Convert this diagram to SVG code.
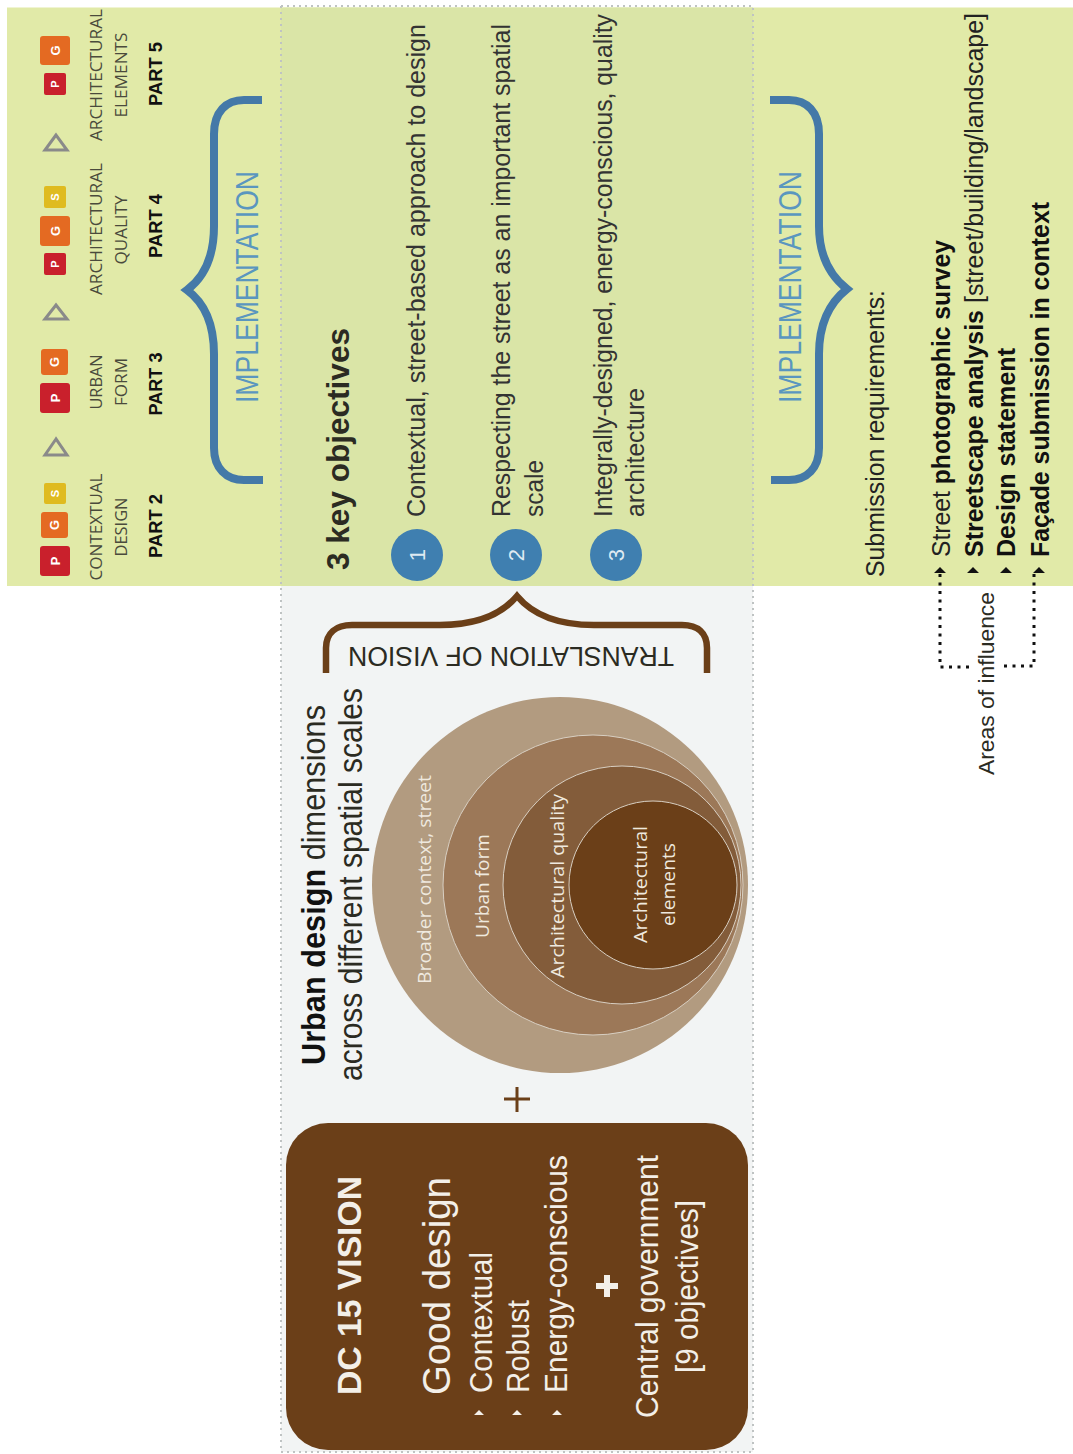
<svg xmlns="http://www.w3.org/2000/svg" width="1073" height="1454" viewBox="0 0 1073 1454">
<style>
text{font-family:"Liberation Sans",Arial,sans-serif;fill:#2b2b22}
.os{font-family:"Open Sans","Noto Sans",sans-serif}
.lab{font-size:16.5px;fill:#4a4a3c;text-anchor:middle}
.part{font-size:18.5px;font-weight:700;fill:#111;text-anchor:middle}
.badge{font-size:11px;font-weight:700;fill:#fff;text-anchor:middle}
.badge.big{font-size:13px}
.obj{font-size:26px;fill:#333}
.num{font-size:22px;fill:#dfeaf2;text-anchor:middle}
.sub{font-size:25px;fill:#222}
.b{font-weight:700;fill:#111}
.impl{font-size:31px;fill:#5a96bf}
.w{fill:#f3efe8}
.cl{font-size:18.5px;fill:#efe9df}
.brace{fill:none;stroke-linecap:butt;stroke-linejoin:miter}
.blue{stroke:#4479a8;stroke-width:8}
.red{fill:#c9202c}.org{fill:#e46a22}.yel{fill:#dfbb20}
.tri{fill:none;stroke:#8a8a8a;stroke-width:3}
</style>
<g id="background">
<rect x="7" y="7.5" width="1066" height="578.5" fill="#e1eaa8"/>
<rect x="281" y="7.5" width="472" height="578.5" fill="#dae5a7"/>
<rect x="281" y="586" width="472" height="866" fill="#f2f4f4"/>
<path d="M281,6V1452H753V6H281" fill="none" stroke="#bfc3c3" stroke-width="2" stroke-dasharray="2 4"/>
</g>
<g id="parts">
<g id="part2">
<rect class="red" x="40" y="546" width="30" height="30" rx="3"/><rect class="org" x="41" y="512" width="27" height="26" rx="3"/><rect class="yel" x="44" y="483" width="22" height="21" rx="2"/>
<text class="badge big" transform="translate(60,561) rotate(-90)">P</text><text class="badge big" transform="translate(59,525) rotate(-90)">G</text><text class="badge" transform="translate(59,493.500) rotate(-90)">S</text>
<text class="os lab" textLength="107" lengthAdjust="spacingAndGlyphs" transform="translate(102,527) rotate(-90)">CONTEXTUAL</text>
<text class="os lab" textLength="59" lengthAdjust="spacingAndGlyphs" transform="translate(127,527) rotate(-90)">DESIGN</text>
<text class="part" textLength="64" lengthAdjust="spacingAndGlyphs" transform="translate(162,526) rotate(-90)">PART 2</text>
</g>
<polygon id="step1" class="tri" points="56,439 45,455 67,455"/>
<g id="part3">
<rect class="org" x="41" y="349" width="27" height="26" rx="3"/><rect class="red" x="40" y="383" width="30" height="30" rx="3"/>
<text class="badge big" transform="translate(60,398) rotate(-90)">P</text><text class="badge big" transform="translate(59,362) rotate(-90)">G</text>
<text class="os lab" textLength="55" lengthAdjust="spacingAndGlyphs" transform="translate(102,382) rotate(-90)">URBAN</text>
<text class="os lab" textLength="48" lengthAdjust="spacingAndGlyphs" transform="translate(127,382) rotate(-90)">FORM</text>
<text class="part" textLength="63" lengthAdjust="spacingAndGlyphs" transform="translate(162,384) rotate(-90)">PART 3</text>
</g>
<polygon id="step2" class="tri" points="56,305 45,319 67,319"/>
<g id="part4">
<rect class="red" x="44" y="253" width="22" height="22" rx="2"/><rect class="org" x="40" y="216" width="30" height="30" rx="3"/><rect class="yel" x="44" y="186" width="22" height="22" rx="2"/>
<text class="badge" transform="translate(59,264) rotate(-90)">P</text><text class="badge big" transform="translate(60,231) rotate(-90)">G</text><text class="badge" transform="translate(59,197) rotate(-90)">S</text>
<text class="os lab" textLength="132" lengthAdjust="spacingAndGlyphs" transform="translate(102,229) rotate(-90)">ARCHITECTURAL</text>
<text class="os lab" textLength="69" lengthAdjust="spacingAndGlyphs" transform="translate(127,230) rotate(-90)">QUALITY</text>
<text class="part" textLength="64" lengthAdjust="spacingAndGlyphs" transform="translate(162,226) rotate(-90)">PART 4</text>
</g>
<polygon id="step3" class="tri" points="56,135 45,150 67,150"/>
<g id="part5">
<rect class="red" x="44" y="73" width="22" height="22" rx="2"/><rect class="org" x="40" y="36" width="30" height="29" rx="3"/>
<text class="badge" transform="translate(59,84) rotate(-90)">P</text><text class="badge big" transform="translate(60,50.500) rotate(-90)">G</text>
<text class="os lab" textLength="132" lengthAdjust="spacingAndGlyphs" transform="translate(102,75) rotate(-90)">ARCHITECTURAL</text>
<text class="os lab" textLength="85" lengthAdjust="spacingAndGlyphs" transform="translate(127,75) rotate(-90)">ELEMENTS</text>
<text class="part" textLength="64" lengthAdjust="spacingAndGlyphs" transform="translate(162,74) rotate(-90)">PART 5</text>
</g>
</g>
<g id="connectors">
<path id="brace-impl-left" class="brace blue" d="M262,100H244C226,100 214,112 214,134V226C214,254 206,276 187,290C206,304 214,326 214,354V448C214,468 226,480 244,480H263"/>
<path id="brace-impl-right" class="brace blue" d="M770,100H789C807,100 819,112 819,134V226C819,254 828,274 847,289C828,304 819,326 819,354V448C819,468 807,480 789,480H771"/>
<path id="brace-translation" class="brace" stroke="#6b3f18" stroke-width="6.500" d="M326,673V648C326,633 336,625 352,625H440C476,625 502,614 517,596C532,614 558,625 594,625H682C698,625 707,633 707,648V673"/>
<path id="influence-left" fill="none" stroke="#111" stroke-width="3" stroke-dasharray="3 5.500" d="M940,574V667H970"/>
<path id="influence-right" fill="none" stroke="#111" stroke-width="3" stroke-dasharray="3 5.500" d="M1034,574V666H1003"/>
</g>
<g id="objectives">
<text textLength="242" lengthAdjust="spacingAndGlyphs" font-weight="700" font-size="31.500" fill="#111" transform="translate(349,570) rotate(-90)">3 key objectives</text>
<g id="objective1"><circle cx="417" cy="555" r="26" fill="#3f7fb0"/><text class="num" transform="translate(424.500,555) rotate(-90)">1</text>
<text class="obj" textLength="493" lengthAdjust="spacingAndGlyphs" transform="translate(425,517) rotate(-90)">Contextual, street-based approach to design</text></g>
<g id="objective2"><circle cx="516" cy="555" r="26" fill="#3f7fb0"/><text class="num" transform="translate(523.500,555) rotate(-90)">2</text>
<text class="obj" textLength="493" lengthAdjust="spacingAndGlyphs" transform="translate(510,517) rotate(-90)">Respecting the street as an important spatial</text>
<text class="obj" textLength="57" lengthAdjust="spacingAndGlyphs" transform="translate(543,517) rotate(-90)">scale</text></g>
<g id="objective3"><circle cx="616" cy="555" r="26" fill="#3f7fb0"/><text class="num" transform="translate(623.500,555) rotate(-90)">3</text>
<text class="obj" textLength="503" lengthAdjust="spacingAndGlyphs" transform="translate(612,517) rotate(-90)">Integrally-designed, energy-conscious, quality</text>
<text class="obj" textLength="129" lengthAdjust="spacingAndGlyphs" transform="translate(644,517) rotate(-90)">architecture</text></g>
</g>
<g id="implementation-labels">
<text class="impl" textLength="232" lengthAdjust="spacingAndGlyphs" transform="translate(258,403) rotate(-90)">IMPLEMENTATION</text>
<text class="impl" textLength="232" lengthAdjust="spacingAndGlyphs" transform="translate(801,403) rotate(-90)">IMPLEMENTATION</text>
</g>
<g id="submission">
<text class="sub" textLength="287" lengthAdjust="spacingAndGlyphs" transform="translate(884,577) rotate(-90)">Submission requirements:</text>
<text class="sub" textLength="317" lengthAdjust="spacingAndGlyphs" transform="translate(950,557) rotate(-90)">Street <tspan class="b">photographic survey</tspan></text>
<text class="sub" textLength="544" lengthAdjust="spacingAndGlyphs" transform="translate(983,557) rotate(-90)"><tspan class="b">Streetscape analysis</tspan> [street/building/landscape]</text>
<text class="sub b" textLength="209" lengthAdjust="spacingAndGlyphs" transform="translate(1015,557) rotate(-90)">Design statement</text>
<text class="sub b" textLength="355" lengthAdjust="spacingAndGlyphs" transform="translate(1049,557) rotate(-90)">Façade submission in context</text>
<path d="M940,567l-6,6h12zM973,567l-6,6h12zM1006,567l-6,6h12zM1039,567l-6,6h12z" fill="#111"/>
</g>
<g id="areas-of-influence">
<text font-size="21.500" fill="#444" textLength="183" lengthAdjust="spacingAndGlyphs" transform="translate(994,775) rotate(-90)">Areas of influence</text>
</g>
<g id="translation-label">
<text font-size="28" fill="#6b3f18" textLength="326" lengthAdjust="spacingAndGlyphs" transform="translate(674,647) rotate(180)">TRANSLATION OF VISION</text>
</g>
<g id="urban-design">
<text font-size="33" fill="#222" textLength="360" lengthAdjust="spacingAndGlyphs" transform="translate(325,1065) rotate(-90)"><tspan class="b">Urban design</tspan> dimensions</text>
<text font-size="33" fill="#222" textLength="393" lengthAdjust="spacingAndGlyphs" transform="translate(362,1081) rotate(-90)">across different spatial scales</text>
</g>
<g id="scales">
<g id="scale-context"><circle cx="560" cy="885" r="188" fill="#b29b80"/><text class="os cl" textLength="209" lengthAdjust="spacingAndGlyphs" transform="translate(431,984) rotate(-90)">Broader context, street</text></g>
<g id="scale-urban"><circle cx="593" cy="885" r="150" fill="#9c7858" stroke="#d8cfc2" stroke-width="1"/><text class="os cl" textLength="104" lengthAdjust="spacingAndGlyphs" transform="translate(489,938) rotate(-90)">Urban form</text></g>
<g id="scale-quality"><circle cx="622" cy="885" r="119" fill="#835c3a" stroke="#d8cfc2" stroke-width="1"/><text class="os cl" textLength="184" lengthAdjust="spacingAndGlyphs" transform="translate(564,978) rotate(-90)">Architectural quality</text></g>
<g id="scale-elements"><circle cx="653" cy="885" r="84" fill="#6b3f18" stroke="#d8cfc2" stroke-width="1"/><text class="os cl" textLength="117" lengthAdjust="spacingAndGlyphs" transform="translate(647,943) rotate(-90)">Architectural</text><text class="os cl" textLength="83" lengthAdjust="spacingAndGlyphs" transform="translate(675,926) rotate(-90)">elements</text></g>
</g>
<path id="plus" d="M517,1087V1112M504,1099H530" stroke="#6b3f18" stroke-width="3" fill="none"/>
<g id="vision">
<rect x="286" y="1123" width="462" height="327" rx="42" fill="#6b3f18"/>
<text class="w" font-weight="700" font-size="34" textLength="219" lengthAdjust="spacingAndGlyphs" transform="translate(361,1395) rotate(-90)">DC 15 VISION</text>
<text class="w" font-size="38" textLength="218" lengthAdjust="spacingAndGlyphs" transform="translate(450,1395) rotate(-90)">Good design</text>
<text class="w" font-size="32" textLength="141" lengthAdjust="spacingAndGlyphs" transform="translate(492,1393) rotate(-90)">Contextual</text>
<text class="w" font-size="32" textLength="93" lengthAdjust="spacingAndGlyphs" transform="translate(529,1393) rotate(-90)">Robust</text>
<text class="w" font-size="32" textLength="238" lengthAdjust="spacingAndGlyphs" transform="translate(567,1393) rotate(-90)">Energy-conscious</text>
<path d="M479,1410l-5,5h10zM517,1410l-5,5h10zM557,1410l-5,5h10z" fill="#f3efe8"/>
<path d="M607,1275V1297M596,1286H618" stroke="#f3efe8" stroke-width="6" fill="none"/>
<text class="w" font-size="32" textLength="263" lengthAdjust="spacingAndGlyphs" transform="translate(658,1418) rotate(-90)">Central government</text>
<text class="w" font-size="32" textLength="173" lengthAdjust="spacingAndGlyphs" transform="translate(698,1373) rotate(-90)">[9 objectives]</text>
</g>
</svg>
